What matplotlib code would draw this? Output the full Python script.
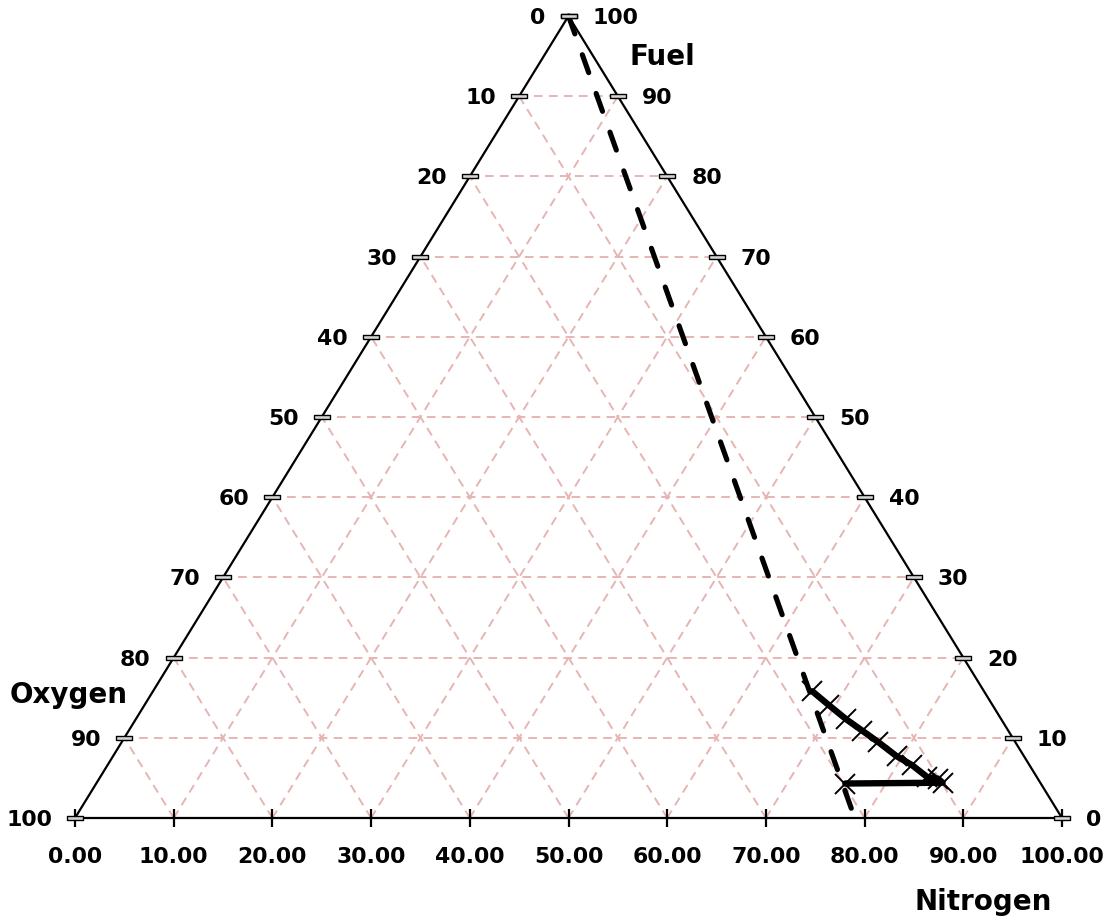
import matplotlib
matplotlib.use("Agg")
import matplotlib.pyplot as plt
from matplotlib.path import Path
import numpy as np

# ---------------- data ----------------
tick_values = [0, 10, 20, 30, 40, 50, 60, 70, 80, 90, 100]
bottom_labels = ["0.00", "10.00", "20.00", "30.00", "40.00", "50.00",
                 "60.00", "70.00", "80.00", "90.00", "100.00"]
left_labels = ["0", "10", "20", "30", "40", "50", "60", "70", "80", "90", "100"]   # Oxygen
right_labels = ["0", "10", "20", "30", "40", "50", "60", "70", "80", "90", "100"]  # Fuel

# air line: pure fuel -> air (79 % N2, 21 % O2)
air_N = [0.0, 79.0]
air_F = [100.0, 0.0]
air_O = [0.0, 21.0]

# flammability envelope (UFL -> nose -> LFL)
env_N = [66.8, 69.3, 72.0, 74.3, 76.6, 79.4, 81.5, 83.8, 85.0, 85.7, 75.9]
env_F = [15.8, 14.1, 12.3, 10.9, 9.5, 7.7, 6.6, 5.1, 4.9, 4.4, 4.3]
env_O = [17.4, 16.6, 15.7, 14.8, 13.9, 12.9, 11.9, 11.1, 10.1, 9.9, 19.8]


def tern(N, F):
    N = np.asarray(N, float)
    F = np.asarray(F, float)
    return N + F / 2.0, F


W, H = 1112, 920
fig = plt.figure(figsize=(W / 100, H / 100), dpi=100)
L, R, T, B = 75, 1062, 17, 819
ax = fig.add_axes([L / W, (H - B) / H, (R - L) / W, (B - T) / H])
ax.set_xlim(0, 100)
ax.set_ylim(0, 100)
ax.axis("off")

grid_color = "#e6b5b3"
gkw = dict(color=grid_color, lw=1.4, linestyle=(0, (4.5, 3.2)), zorder=1, clip_on=False)
for k in tick_values[1:-1]:
    x, y = tern([0, 100 - k], [k, k])
    ax.plot(x, y, **gkw)
    x, y = tern([k, k], [0, 100 - k])
    ax.plot(x, y, **gkw)
    x, y = tern([100 - k, 0], [0, 100 - k])
    ax.plot(x, y, **gkw)

# triangle edges
x, y = tern([0, 100, 0, 0], [0, 0, 100, 0])
ax.plot(x, y, color="black", lw=1.6, zorder=3, clip_on=False, solid_joinstyle="miter")

# air line
x, y = tern(air_N, air_F)
ax.plot(x, y, color="black", lw=3.7, linestyle=(0, (3.7, 4.3)),
        dash_capstyle="round", zorder=4, clip_on=False)

# envelope
x, y = tern(env_N, env_F)
ax.plot(x, y, color="black", lw=4.6, marker="x", ms=14, mew=1.4,
        solid_capstyle="round", solid_joinstyle="round", zorder=5, clip_on=False)

# tick marks
rect = Path([(-1.6, -0.5), (1.6, -0.5), (1.6, 0.5), (-1.6, 0.5), (-1.6, -0.5)])
tv = np.array(tick_values, float)
# bottom (Nitrogen)
x, y = tern(tv, np.zeros_like(tv))
ax.plot(x, y, ls="none", marker="|", ms=13, mew=1.6, color="black", zorder=6, clip_on=False)
# left (Oxygen) : N = 0, F = 100 - O
x, y = tern(np.zeros_like(tv), 100 - tv)
ax.plot(x, y, ls="none", marker=rect, ms=11, mew=1.0, mec="black", mfc="#d4d4d4",
        zorder=6, clip_on=False)
# right (Fuel) : O = 0
x, y = tern(100 - tv, tv)
ax.plot(x, y, ls="none", marker=rect, ms=11, mew=1.0, mec="black", mfc="#d4d4d4",
        zorder=6, clip_on=False)

fkw = dict(fontsize=15.8, fontweight="bold", family="DejaVu Sans", color="black",
           textcoords="offset pixels", annotation_clip=False)
for v, lab in zip(tick_values, bottom_labels):
    x, y = tern(v, 0)
    ax.annotate(lab, (x, y), xytext=(0, -38), ha="center", va="center", **fkw)
for v, lab in zip(tick_values, left_labels):
    x, y = tern(0, 100 - v)
    ax.annotate(lab, (x, y), xytext=(-23, -1), ha="right", va="center", **fkw)
for v, lab in zip(tick_values, right_labels):
    x, y = tern(100 - v, v)
    ax.annotate(lab, (x, y), xytext=(24, -1), ha="left", va="center", **fkw)

tkw = dict(fontsize=20, fontweight="bold", family="DejaVu Sans", color="black")
fig.text(629 / W, 1 - 57 / H, "Fuel", ha="left", va="center", **tkw)
fig.text(10 / W, 1 - 695 / H, "Oxygen", ha="left", va="center", **tkw)
fig.text(983 / W, 1 - 902 / H, "Nitrogen", ha="center", va="center", **tkw)

fig.savefig("out.png", dpi=100)
